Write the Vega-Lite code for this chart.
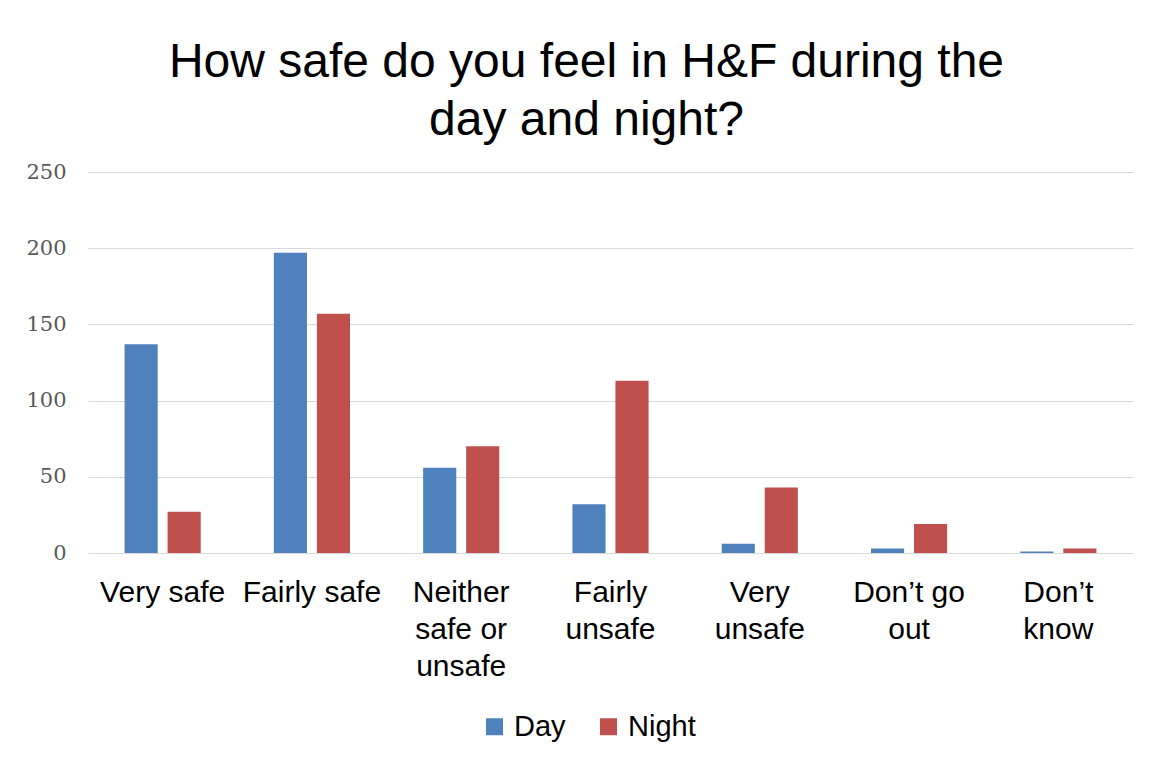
{
  "$schema": "https://vega.github.io/schema/vega-lite/v6.json",
  "width": 1045,
  "height": 381,
  "autosize": "none",
  "padding": {"left": 88, "top": 172, "right": 23, "bottom": 205},
  "background": "white",
  "title": {
    "text": ["How safe do you feel in H&F during the", "day and night?"],
    "font": "Liberation Sans",
    "fontSize": 48,
    "fontWeight": "normal",
    "color": "#000000",
    "anchor": "middle",
    "dx": -24,
    "lineHeight": 58,
    "offset": 16
  },
  "data": {
    "values": [
      {"category": "Very safe", "period": "Day", "count": 137},
      {"category": "Very safe", "period": "Night", "count": 27},
      {"category": "Fairly safe", "period": "Day", "count": 197},
      {"category": "Fairly safe", "period": "Night", "count": 157},
      {"category": "Neither safe or unsafe", "period": "Day", "count": 56},
      {"category": "Neither safe or unsafe", "period": "Night", "count": 70},
      {"category": "Fairly unsafe", "period": "Day", "count": 32},
      {"category": "Fairly unsafe", "period": "Night", "count": 113},
      {"category": "Very unsafe", "period": "Day", "count": 6},
      {"category": "Very unsafe", "period": "Night", "count": 43},
      {"category": "Don’t go out", "period": "Day", "count": 3},
      {"category": "Don’t go out", "period": "Night", "count": 19},
      {"category": "Don’t know", "period": "Day", "count": 1},
      {"category": "Don’t know", "period": "Night", "count": 3}
    ]
  },
  "mark": {"type": "bar"},
  "encoding": {
    "x": {
      "field": "category",
      "type": "nominal",
      "sort": null,
      "scale": {"paddingInner": 0.49, "paddingOuter": 0.245},
      "axis": {
        "title": null,
        "labelAngle": 0,
        "labelFont": "Liberation Sans",
        "labelFontSize": 30,
        "labelColor": "#000000",
        "labelPadding": 24,
        "labelLineHeight": 37,
        "labelLimit": 300,
        "ticks": false,
        "domainColor": "#d9d9d9",
        "domainWidth": 1,
        "grid": false,
        "labelExpr": "datum.label == 'Neither safe or unsafe' ? ['Neither','safe or','unsafe'] : datum.label == 'Fairly unsafe' ? ['Fairly','unsafe'] : datum.label == 'Very unsafe' ? ['Very','unsafe'] : datum.label == 'Don’t go out' ? ['Don’t go','out'] : datum.label == 'Don’t know' ? ['Don’t','know'] : datum.label"
      }
    },
    "xOffset": {
      "field": "period",
      "type": "nominal",
      "scale": {"paddingInner": 0.23, "paddingOuter": 0}
    },
    "y": {
      "field": "count",
      "type": "quantitative",
      "scale": {"domain": [0, 250], "nice": false},
      "axis": {
        "title": null,
        "values": [0, 50, 100, 150, 200, 250],
        "labelFont": "DejaVu Serif",
        "labelFontSize": 21,
        "labelColor": "#595959",
        "labelPadding": 22,
        "ticks": false,
        "domain": false,
        "gridColor": "#d9d9d9",
        "gridWidth": 1
      }
    },
    "color": {
      "field": "period",
      "type": "nominal",
      "scale": {"domain": ["Day", "Night"], "range": ["#4F81BD", "#C0504D"]},
      "legend": {
        "title": null,
        "orient": "none",
        "direction": "horizontal",
        "legendX": 392,
        "legendY": 540,
        "symbolType": "square",
        "symbolSize": 289,
        "symbolStrokeWidth": 0,
        "labelFont": "Liberation Sans",
        "labelFontSize": 29,
        "labelColor": "#000000",
        "labelOffset": 5,
        "columnPadding": 28
      }
    }
  },
  "config": {
    "view": {"stroke": null}
  }
}
